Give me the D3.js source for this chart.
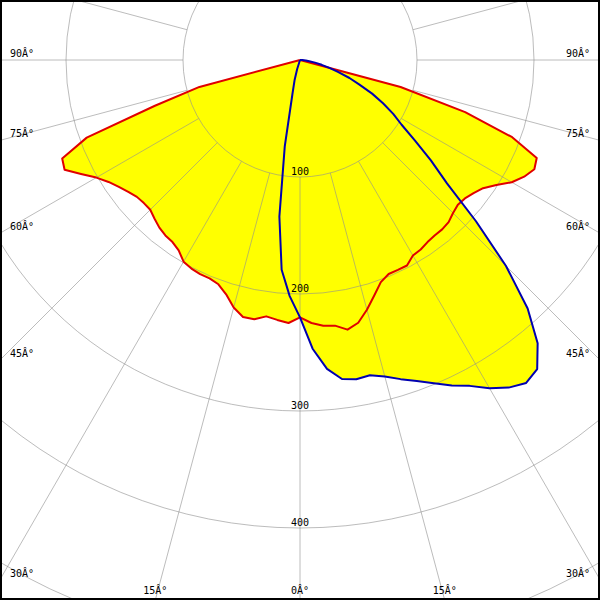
<!DOCTYPE html>
<html><head><meta charset="utf-8">
<script src="https://cdn.jsdelivr.net/npm/d3@7"></script>
<style>body{margin:0;background:#fff}svg{display:block}</style>
</head><body>
<svg id="chart" width="600" height="600"></svg>
<script>
// gamma angles (degrees, 0 = straight down, negative = left)
const angles = d3.range(-90, 90.01, 2.5);
// red curve (C0-C180 plane), cd/klm
const redValues = [
  0, 0, 0, 0, 0, 0, 89, 130, 194, 220, 222, 211, 201, 194, 189, 185, 182, 181, 181,
  184, 187, 189, 190, 193, 199, 201, 202, 202, 204, 210, 219, 225, 225, 221, 223, 225,
  220,
  225, 228, 229, 234, 230, 221, 211, 202, 198, 198, 198, 193, 192, 190, 189, 189, 188,
  185, 183, 184, 187, 191, 199, 209, 216, 221, 219, 193, 148, 89, 0, 0, 0, 0, 0, 0
];
// blue curve (C90-C270 plane), cd/klm
const blueValues = [
  0, 0, 0, 0, 0, 0, 0, 0, 0, 0, 0, 0, 0, 0, 0, 0, 0, 0, 0, 0, 0, 0, 0, 0, 0, 0, 0, 0,
  0, 8, 18, 30, 75, 135, 180, 202,
  220,
  247, 265, 275, 277, 276, 280, 286, 292, 299, 307, 314, 324, 332, 337, 333, 316, 288,
  249, 204, 164, 141, 120, 103, 92, 80, 68, 55, 45, 34, 26, 19, 13, 8, 5, 2, 0
];
const radiusTicks = [100, 200, 300, 400, 500];
const radiusTickLabels = ["100", "200", "300", "400"];
const gridAngles = d3.range(-180, 180, 15);
const labelAngles = [-90, -75, -60, -45, -30, -15, 0, 15, 30, 45, 60, 75, 90];
const labelText = a => Math.abs(a) + "\u00C2\u00B0";

const W = 600, H = 600, cx = 300, cy = 60;
const svg = d3.select("#chart");
const rScale = d3.scaleLinear().domain([0, 500]).range([0, 585]);
// d3 radial angle: 0 = up, clockwise; our 0 = down, positive = right
const aScale = d3.scaleLinear().domain([-180, 180]).range([2 * Math.PI, 0]);

const g = svg.append("g").attr("transform", `translate(${cx},${cy})`);

const redData = angles.map((a, i) => ({a, v: redValues[i]}));
const blueData = angles.map((a, i) => ({a, v: blueValues[i]}));
const radial = d3.lineRadial().angle(d => aScale(d.a)).radius(d => rScale(d.v));
const area = d3.lineRadial().angle(d => aScale(d.a)).radius(d => rScale(d.v)).curve(d3.curveLinearClosed);

// fills
g.append("path").attr("d", area(redData)).attr("fill", "#ffff00").attr("stroke", "none");
g.append("path").attr("d", area(blueData)).attr("fill", "#ffff00").attr("stroke", "none");

// grid
const gridG = g.append("g").attr("stroke", "#909090").attr("stroke-opacity", 0.6).attr("fill", "none").attr("stroke-width", 1);
radiusTicks.forEach(t => gridG.append("circle").attr("r", rScale(t)));
gridAngles.forEach(a => {
  const ang = aScale(a);
  const r0 = rScale(100), r1 = rScale(700);
  gridG.append("line")
    .attr("x1", r0 * Math.sin(ang)).attr("y1", -r0 * Math.cos(ang))
    .attr("x2", r1 * Math.sin(ang)).attr("y2", -r1 * Math.cos(ang));
});

// curves
g.append("path").attr("d", radial(redData)).attr("fill", "none").attr("stroke", "#e00000").attr("stroke-width", 2).attr("stroke-linejoin", "round");
g.append("path").attr("d", radial(blueData)).attr("fill", "none").attr("stroke", "#0000b0").attr("stroke-width", 2).attr("stroke-linejoin", "round");

// radius labels
const font = "'DejaVu Sans Mono', monospace";
radiusTickLabels.forEach((lab, i) => {
  g.append("text").attr("x", 0).attr("y", rScale(radiusTicks[i]) - 2)
    .attr("text-anchor", "middle").attr("font-family", font).attr("font-size", 10)
    .attr("fill", "#000").text(lab);
});

// angle labels at the frame edges
labelAngles.forEach(a => {
  const ang = aScale(a);
  const dx = Math.sin(ang), dy = -Math.cos(ang);
  const tSide = Math.abs(dx) > 1e-9 ? (cx / Math.abs(dx)) : Infinity;
  const tBottom = dy > 1e-9 ? (H - cy) / dy : Infinity;
  const t = svg.append("text").attr("font-family", font).attr("font-size", 10).attr("fill", "#000").text(labelText(a));
  if (tSide <= tBottom) {
    const ey = cy + dy * tSide;
    if (dx < 0) t.attr("x", 10).attr("text-anchor", "start");
    else t.attr("x", 590).attr("text-anchor", "end");
    t.attr("y", ey - 3);
  } else {
    const ex = cx + dx * tBottom;
    t.attr("x", ex).attr("y", 594).attr("text-anchor", "middle");
  }
});

// frame
svg.append("rect").attr("x", 1).attr("y", 1).attr("width", 598).attr("height", 598)
  .attr("fill", "none").attr("stroke", "#000").attr("stroke-width", 2);
</script>
</body></html>
